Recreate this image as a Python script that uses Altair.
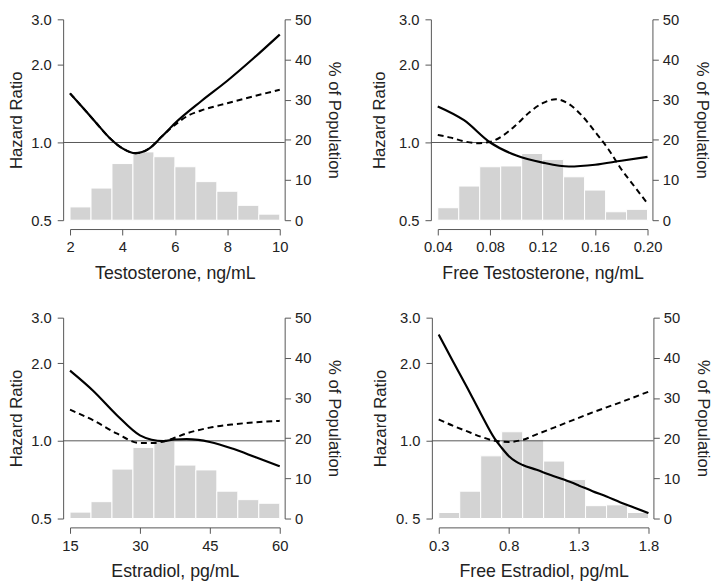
import altair as alt
import pandas as pd

FONT = "Liberation Sans"
TXT = "#222222"
AX = "#555555"
BAR = "#d3d3d3"

# ---------- Panel 1: Testosterone ----------
t_edges = [2, 2.8, 3.6, 4.4, 5.2, 6.0, 6.8, 7.6, 8.4, 9.2, 10]
t_pct = [3.3, 8.0, 14.1, 17.0, 15.8, 13.3, 9.6, 7.2, 3.7, 1.5]
t_sx = [2, 2.5, 3, 3.5, 4, 4.5, 5, 5.5, 6, 7, 8, 9, 10]
t_sy = [1.55, 1.36, 1.19, 1.044, 0.949, 0.909, 0.944, 1.054, 1.187, 1.445, 1.735, 2.12, 2.62]
t_dx = [2, 2.5, 3, 3.5, 4, 4.5, 5, 5.5, 6, 6.5, 7, 8, 9, 10]
t_dy = [1.55, 1.36, 1.19, 1.044, 0.949, 0.909, 0.944, 1.054, 1.17, 1.27, 1.33, 1.42, 1.51, 1.60]

# ---------- Panel 2: Free Testosterone ----------
ft_edges = [0.04, 0.056, 0.072, 0.088, 0.104, 0.12, 0.136, 0.152, 0.168, 0.184, 0.20]
ft_pct = [3.1, 8.5, 13.3, 13.5, 16.6, 15.1, 10.8, 7.5, 2.1, 2.7]
ft_sx = [0.04, 0.06, 0.08, 0.10, 0.12, 0.14, 0.16, 0.18, 0.20]
ft_sy = [1.38, 1.22, 1.0, 0.89, 0.836, 0.807, 0.82, 0.85, 0.88]
ft_dx = [0.04, 0.05, 0.06, 0.07, 0.08, 0.09, 0.10, 0.11, 0.12, 0.13, 0.14, 0.15,
         0.16, 0.17, 0.18, 0.19, 0.20]
ft_dy = [1.07, 1.044, 1.01, 0.994, 1.006, 1.066, 1.173, 1.31, 1.42, 1.47, 1.41, 1.27,
         1.10, 0.944, 0.788, 0.676, 0.58]

# ---------- Panel 3: Estradiol ----------
e_edges = [15, 19.5, 24, 28.5, 33, 37.5, 42, 46.5, 51, 55.5, 60]
e_pct = [1.6, 4.2, 12.3, 17.7, 19.3, 13.3, 12.1, 6.8, 4.7, 3.8]
e_sx = [15, 20, 25, 30, 32.5, 35, 37.5, 40, 42.5, 45, 50, 55, 60]
e_sy = [1.87, 1.56, 1.26, 1.05, 1.01, 0.997, 1.012, 1.015, 1.008, 0.99, 0.931, 0.861, 0.797]
e_dx = [15, 20, 25, 30, 33, 35, 37, 40, 45, 50, 55, 60]
e_dy = [1.32, 1.20, 1.068, 0.98, 0.98, 0.994, 1.02, 1.068, 1.125, 1.158, 1.18, 1.195]

# ---------- Panel 4: Free Estradiol ----------
fe_edges = [0.3, 0.45, 0.6, 0.75, 0.9, 1.05, 1.2, 1.35, 1.5, 1.65, 1.8]
fe_pct = [1.5, 6.8, 15.6, 21.6, 19.6, 14.3, 9.7, 3.2, 3.4, 1.5]
fe_sx = [0.3, 0.4, 0.5, 0.6, 0.7, 0.75, 0.8, 0.85, 0.9, 1.0, 1.1, 1.2, 1.3, 1.4,
         1.5, 1.6, 1.7, 1.8]
fe_sy = [2.58, 2.04, 1.62, 1.277, 1.02, 0.939, 0.874, 0.832, 0.806, 0.772, 0.737,
         0.706, 0.672, 0.638, 0.608, 0.577, 0.551, 0.525]
fe_dx = [0.3, 0.4, 0.5, 0.6, 0.7, 0.8, 0.9, 1.0, 1.2, 1.4, 1.6, 1.8]
fe_dy = [1.21, 1.145, 1.09, 1.038, 1.0, 0.99, 1.009, 1.059, 1.168, 1.288, 1.41, 1.55]

W, H = 213, 204


def panel(edges, pct, sx, sy, dx, dy, xtitle, xticks, xfmt, ytp, ylabel_expr=None):
    xscale = alt.Scale(domain=[edges[0], edges[-1]], nice=False, zero=False)
    xaxis = alt.Axis(values=xticks, format=xfmt, title=xtitle, offset=9, tickSize=6,
                     labelPadding=5, titlePadding=10, labelFlush=False, grid=False,
                     labelOverlap=False, titleFontSize=18)
    yscale = alt.Scale(type="log", domain=[0.5, 3.0], nice=False)
    yax_kw = dict(orient="left", values=[0.5, 1.0, 2.0, 3.0], format=".1f",
                  title="Hazard Ratio", offset=7, tickSize=6, labelPadding=6,
                  titlePadding=ytp, grid=False, labelFlush=False)
    if ylabel_expr:
        yax_kw["labelExpr"] = ylabel_expr
    yaxis = alt.Axis(**yax_kw)

    hist = pd.DataFrame({"x0": edges[:-1], "x1": edges[1:], "pct": pct})
    bars = alt.Chart(hist).mark_bar(color=BAR, stroke="white", strokeWidth=1).encode(
        x=alt.X("x0:Q", scale=xscale, axis=xaxis),
        x2="x1:Q",
        y=alt.Y("pct:Q", scale=alt.Scale(domain=[0, 50], nice=False, zero=True),
                axis=alt.Axis(orient="right", values=[0, 10, 20, 30, 40, 50],
                              title="% of Population", offset=5, tickSize=6,
                              labelPadding=4, titlePadding=14, grid=False,
                              labelFlush=False)),
        y2=alt.datum(0),
    )
    hline = alt.Chart(pd.DataFrame({"hr": [1.0]})).mark_rule(
        color=AX, strokeWidth=1).encode(
        y=alt.Y("hr:Q", scale=yscale, axis=None),
        x=alt.value(-7), x2=alt.value(W + 5),
    )
    sdf = pd.DataFrame({"x": sx, "hr": sy})
    solid = alt.Chart(sdf).mark_line(color="black", strokeWidth=2.2,
                                     interpolate="monotone").encode(
        x=alt.X("x:Q", scale=xscale, axis=xaxis),
        y=alt.Y("hr:Q", scale=yscale, axis=yaxis),
    )
    ddf = pd.DataFrame({"x": dx, "hr": dy})
    dashed = alt.Chart(ddf).mark_line(color="black", strokeWidth=2,
                                      strokeDash=[6, 4],
                                      interpolate="monotone").encode(
        x=alt.X("x:Q", scale=xscale, axis=xaxis),
        y=alt.Y("hr:Q", scale=yscale, axis=None),
    )
    return alt.layer(bars, hline, solid, dashed).resolve_scale(
        y="independent").properties(width=W, height=H)


p1 = panel(t_edges, t_pct, t_sx, t_sy, t_dx, t_dy, "Testosterone, ng/mL",
           [2, 4, 6, 8, 10], "d", 5)
p2 = panel(ft_edges, ft_pct, ft_sx, ft_sy, ft_dx, ft_dy, "Free Testosterone, ng/mL",
           [0.04, 0.08, 0.12, 0.16, 0.20], ".2f", 10)
p3 = panel(e_edges, e_pct, e_sx, e_sy, e_dx, e_dy, "Estradiol, pg/mL",
           [15, 30, 45, 60], "d", 5)
p4 = panel(fe_edges, fe_pct, fe_sx, fe_sy, fe_dx, fe_dy, "Free Estradiol, pg/mL",
           [0.3, 0.8, 1.3, 1.8], ".1f", 6,
           ylabel_expr="datum.value == 0.5 ? '0. 5' : format(datum.value, '.1f')")

chart = alt.vconcat(
    alt.hconcat(p1, p2, spacing=28.5),
    alt.hconcat(p3, p4, spacing=28.5),
    spacing=29,
).properties(padding=0).configure_axis(
    labelFont=FONT, titleFont=FONT, labelFontSize=15, titleFontSize=17,
    titleFontWeight="normal", labelColor=TXT, titleColor=TXT,
    domainColor=AX, tickColor=AX, domainWidth=1, tickWidth=1,
).configure_view(strokeWidth=0)

chart.save("out.html", embed_options={"renderer": "svg", "actions": False})
